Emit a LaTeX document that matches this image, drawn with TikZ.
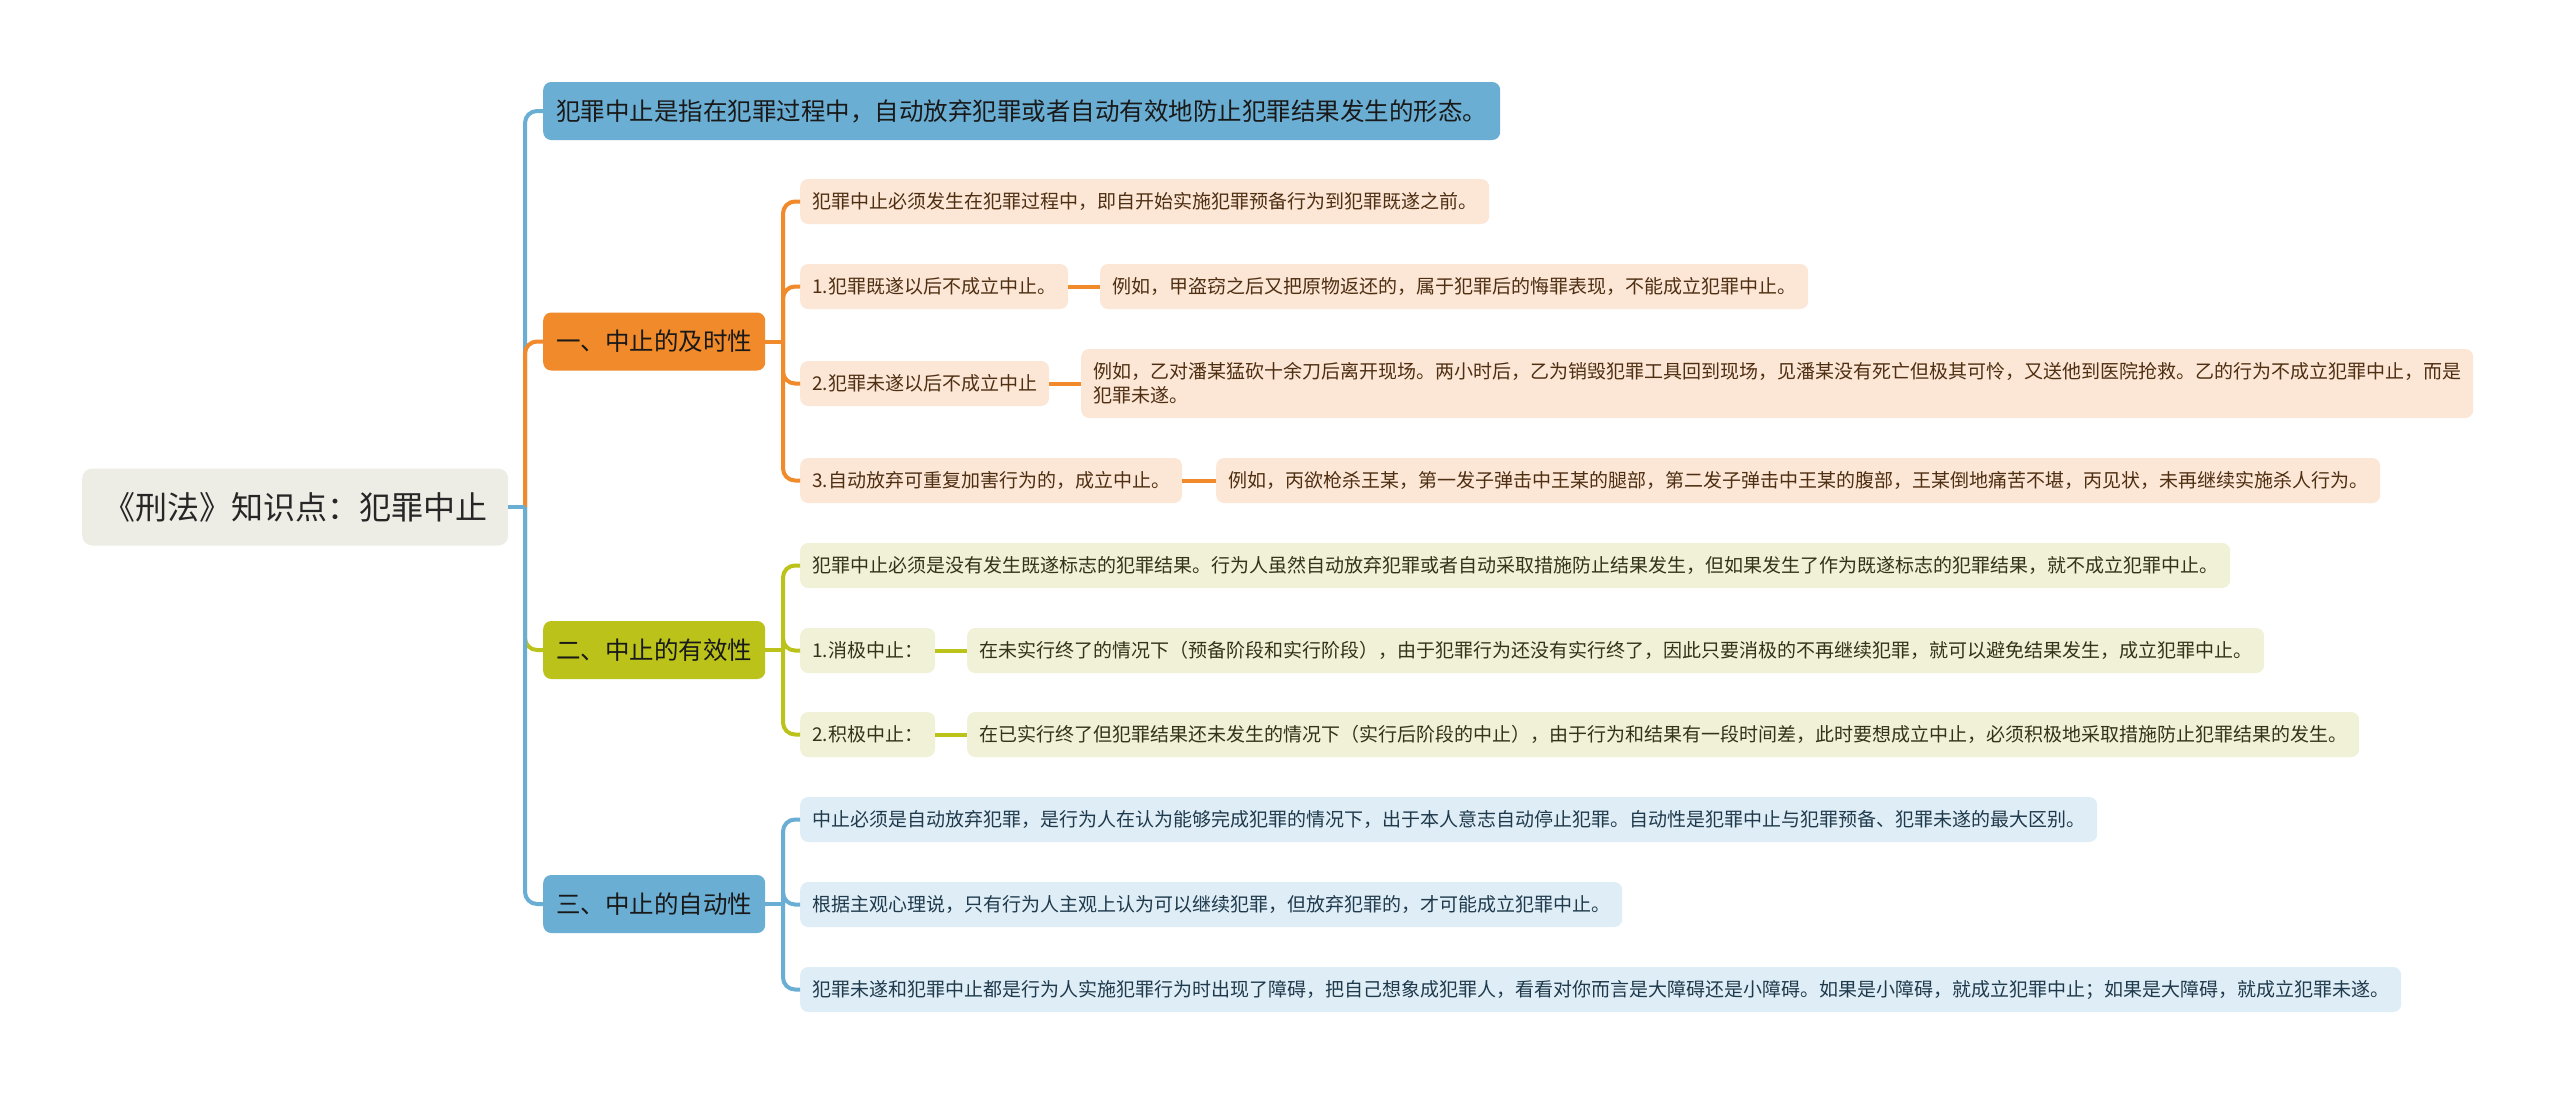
\documentclass[tikz,border=0pt]{standalone}
\usepackage{fontspec}
\newfontfamily\cjk{Noto Sans CJK SC}
\definecolor{rootfill}{HTML}{EEEDE5}
\definecolor{bluefill}{HTML}{6BAED3}
\definecolor{orangefill}{HTML}{F18A2A}
\definecolor{olivefill}{HTML}{BBC31A}
\definecolor{lorange}{HTML}{FCE6D6}
\definecolor{lolive}{HTML}{F0F1D6}
\definecolor{lblue}{HTML}{DFEEF6}
\definecolor{torange}{HTML}{4E2F12}
\definecolor{tolive}{HTML}{33331A}
\definecolor{tblue}{HTML}{1F3A4C}
\begin{document}
\begin{tikzpicture}[x=1pt,y=-1pt]
\tikzset{
  box/.style={rounded corners=8pt, inner ysep=0pt, anchor=west, align=left,
    font=\cjk\fontsize{19}{24}\selectfont},
  rootbox/.style={box, fill=rootfill, text=black!85, inner xsep=21pt,
    minimum height=77pt, rounded corners=10pt, font=\cjk\fontsize{32}{38}\selectfont},
  lone/.style={box, inner xsep=13pt, minimum height=58pt, text=black!90,
    font=\cjk\fontsize{24.5}{30}\selectfont},
  ltwo/.style={box, inner xsep=12pt, minimum height=45pt},
  lo/.style={ltwo, fill=lorange, text=torange},
  ll/.style={ltwo, fill=lolive, text=tolive},
  lb/.style={ltwo, fill=lblue, text=tblue},
  conn/.style={line width=4pt, rounded corners=12pt},
  cb/.style={conn, draw=bluefill},
  co/.style={conn, draw=orangefill},
  cl/.style={conn, draw=olivefill},
}
\fill[white] (0,0) rectangle (2560,1093);
\useasboundingbox (0,0) rectangle (2560,1093);

% nodes
\node[rootbox] (root) at (82,507) {《刑法》知识点：犯罪中止};
\node[lone, fill=bluefill] (top) at (543,111) {犯罪中止是指在犯罪过程中，自动放弃犯罪或者自动有效地防止犯罪结果发生的形态。};
\node[lone, fill=orangefill] (one) at (543,341.5) {一、中止的及时性};
\node[lone, fill=olivefill] (two) at (543,650) {二、中止的有效性};
\node[lone, fill=bluefill] (three) at (543,904) {三、中止的自动性};

\node[lo] (a1) at (800,201.5) {犯罪中止必须发生在犯罪过程中，即自开始实施犯罪预备行为到犯罪既遂之前。};
\node[lo] (a2) at (800,286.5) {1.犯罪既遂以后不成立中止。};
\node[lo] (a2c) at (1100,286.5) {例如，甲盗窃之后又把原物返还的，属于犯罪后的悔罪表现，不能成立犯罪中止。};
\node[lo] (a3) at (800,383.5) {2.犯罪未遂以后不成立中止};
\node[lo, minimum height=69pt] (a3c) at (1081,383.5) {例如，乙对潘某猛砍十余刀后离开现场。两小时后，乙为销毁犯罪工具回到现场，见潘某没有死亡但极其可怜，又送他到医院抢救。乙的行为不成立犯罪中止，而是\\犯罪未遂。};
\node[lo] (a4) at (800,480.5) {3.自动放弃可重复加害行为的，成立中止。};
\node[lo] (a4c) at (1216,480.5) {例如，丙欲枪杀王某，第一发子弹击中王某的腿部，第二发子弹击中王某的腹部，王某倒地痛苦不堪，丙见状，未再继续实施杀人行为。};

\node[ll] (b1) at (800,565.5) {犯罪中止必须是没有发生既遂标志的犯罪结果。行为人虽然自动放弃犯罪或者自动采取措施防止结果发生，但如果发生了作为既遂标志的犯罪结果，就不成立犯罪中止。};
\node[ll] (b2) at (800,650.5) {1.消极中止：};
\node[ll] (b2c) at (967,650.5) {在未实行终了的情况下（预备阶段和实行阶段），由于犯罪行为还没有实行终了，因此只要消极的不再继续犯罪，就可以避免结果发生，成立犯罪中止。};
\node[ll] (b3) at (800,734.5) {2.积极中止：};
\node[ll] (b3c) at (967,734.5) {在已实行终了但犯罪结果还未发生的情况下（实行后阶段的中止），由于行为和结果有一段时间差，此时要想成立中止，必须积极地采取措施防止犯罪结果的发生。};

\node[lb] (c1) at (800,819.5) {中止必须是自动放弃犯罪，是行为人在认为能够完成犯罪的情况下，出于本人意志自动停止犯罪。自动性是犯罪中止与犯罪预备、犯罪未遂的最大区别。};
\node[lb] (c2) at (800,904.5) {根据主观心理说，只有行为人主观上认为可以继续犯罪，但放弃犯罪的，才可能成立犯罪中止。};
\node[lb] (c3) at (800,989.5) {犯罪未遂和犯罪中止都是行为人实施犯罪行为时出现了障碍，把自己想象成犯罪人，看看对你而言是大障碍还是小障碍。如果是小障碍，就成立犯罪中止；如果是大障碍，就成立犯罪未遂。};

% junction coordinates
\coordinate (j0) at (525,507);
\coordinate (j1) at (783,341.5);
\coordinate (j2) at (783,650);
\coordinate (j3) at (783,904);

% level 1 connectors (drawn in order)
\draw[cb] (j0) |- (top.west);
\draw[co] (j0) |- (one.west);
\draw[cl] (j0) |- (two.west);
\draw[cb] (j0) |- (three.west);
\draw[cb, rounded corners=0pt] (root.east) -- (j0);

% level 2 connectors
\draw[co, rounded corners=0pt] (one.east) -- (j1);
\draw[co] (j1) |- (a1.west);
\draw[co] (j1) |- (a2.west);
\draw[co] (j1) |- (a3.west);
\draw[co] (j1) |- (a4.west);
\draw[co] (a2.east) -- (a2c.west);
\draw[co] (a3.east) -- (a3c.west);
\draw[co] (a4.east) -- (a4c.west);

\draw[cl, rounded corners=0pt] (two.east) -- (j2);
\draw[cl] (j2) |- (b1.west);
\draw[cl] (j2) |- (b2.west);
\draw[cl] (j2) |- (b3.west);
\draw[cl] (b2.east) -- (b2c.west);
\draw[cl] (b3.east) -- (b3c.west);

\draw[cb, rounded corners=0pt] (three.east) -- (j3);
\draw[cb] (j3) |- (c1.west);
\draw[cb] (j3) |- (c2.west);
\draw[cb] (j3) |- (c3.west);
\end{tikzpicture}
\end{document}
